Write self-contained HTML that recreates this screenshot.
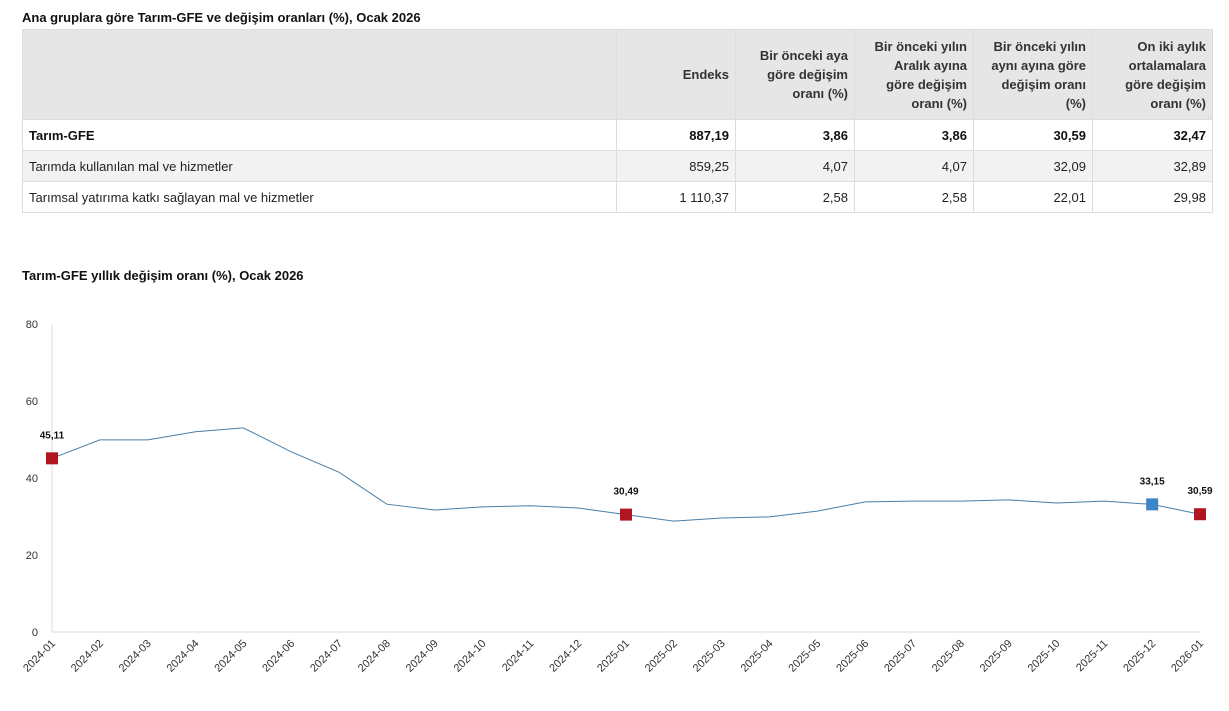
<!DOCTYPE html>
<html><head><meta charset="utf-8"><style>
body{margin:0;width:1229px;height:711px;background:#fff;font-family:"Liberation Sans",sans-serif;color:#222;position:relative;overflow:hidden}
.t{position:absolute;left:22px;font-weight:bold;font-size:13px;color:#111}
table{position:absolute;left:22px;top:29px;border-collapse:collapse;font-size:13px}
td{border:1px solid #ddd;padding:0 6px;text-align:right;height:30px}
td.l{text-align:left}
tr.h td{background:#e6e6e6;height:89px;vertical-align:middle;font-weight:bold;line-height:19px;color:#333}
tr.b td{font-weight:bold;color:#111}
tr.g td{background:#f2f2f2}
</style></head><body>
<div class="t" style="top:10px">Ana gruplara göre Tarım-GFE ve değişim oranları (%), Ocak 2026</div>
<table>
<colgroup><col style="width:594px"><col style="width:119px"><col style="width:119px"><col style="width:119px"><col style="width:119px"><col style="width:120px"></colgroup>
<tr class="h"><td class="l"></td><td>Endeks</td><td>Bir önceki aya<br>göre değişim<br>oranı (%)</td><td>Bir önceki yılın<br>Aralık ayına<br>göre değişim<br>oranı (%)</td><td>Bir önceki yılın<br>aynı ayına göre<br>değişim oranı<br>(%)</td><td>On iki aylık<br>ortalamalara<br>göre değişim<br>oranı (%)</td></tr>
<tr class="b"><td class="l">Tarım-GFE</td><td>887,19</td><td>3,86</td><td>3,86</td><td>30,59</td><td>32,47</td></tr>
<tr class="g"><td class="l">Tarımda kullanılan mal ve hizmetler</td><td>859,25</td><td>4,07</td><td>4,07</td><td>32,09</td><td>32,89</td></tr>
<tr><td class="l">Tarımsal yatırıma katkı sağlayan mal ve hizmetler</td><td>1 110,37</td><td>2,58</td><td>2,58</td><td>22,01</td><td>29,98</td></tr>
</table>
<div class="t" style="top:268px">Tarım-GFE yıllık değişim oranı (%), Ocak 2026</div>
<svg id="c" width="1229" height="711" style="position:absolute;left:0;top:0" font-family="Liberation Sans, sans-serif"></svg>
<script>
var v=[45.11,49.9,49.9,52,53,46.8,41.5,33.2,31.7,32.5,32.8,32.2,30.49,28.8,29.6,29.9,31.4,33.8,34.0,34.0,34.3,33.5,34.0,33.15,30.59];
var x0=52,dx=(1200-52)/24,y=function(a){return 632-a*3.85};
var s='<line x1="52" y1="324" x2="52" y2="632" stroke="#ddd"/><line x1="52" y1="632" x2="1200" y2="632" stroke="#ddd"/>';
[0,20,40,60,80].forEach(function(t){s+='<text x="38" y="'+(y(t)+4)+'" font-size="11" fill="#333" text-anchor="end">'+t+'</text>'});
var p=v.map(function(a,i){return (x0+i*dx).toFixed(1)+','+y(a).toFixed(1)}).join(' ');
s+='<polyline points="'+p+'" fill="none" stroke="#4a7fa5" stroke-width="1"/>';
for(var i=0;i<25;i++){var yr=2024+Math.floor(i/12),m=i%12+1,l=yr+'-'+(m<10?'0':'')+m,X=x0+i*dx;
s+='<text transform="translate('+(X+4)+',644) rotate(-45)" font-size="11" fill="#333" text-anchor="end">'+l+'</text>';}
[[0,'#b0161f','45,11'],[12,'#b0161f','30,49'],[23,'#3d85c6','33,15'],[24,'#b0161f','30,59']].forEach(function(q){var X=x0+q[0]*dx,Y=y(v[q[0]]);
s+='<rect x="'+(X-6)+'" y="'+(Y-6)+'" width="12" height="12" fill="'+q[1]+'"/><text x="'+X+'" y="'+(Y-20)+'" font-size="10" font-weight="bold" fill="#111" text-anchor="middle">'+q[2]+'</text>'});
document.getElementById('c').innerHTML=s;
</script>
</body></html>
